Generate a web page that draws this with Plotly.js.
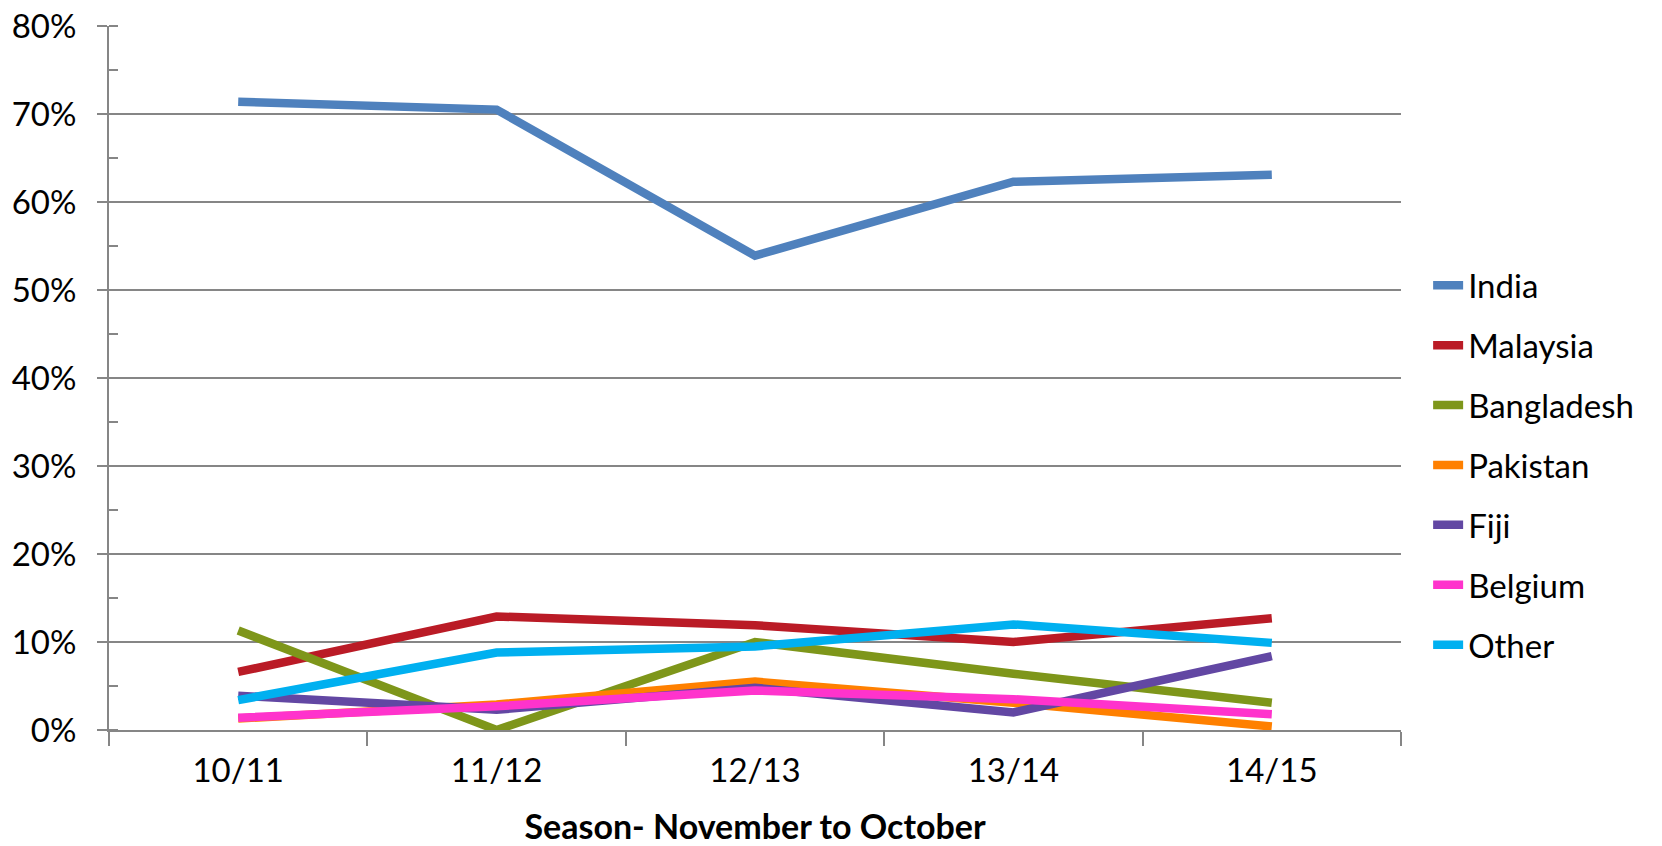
<!DOCTYPE html>
<html>
<head>
<meta charset="utf-8">
<script src="https://cdn.plot.ly/plotly-3.0.1.min.js"></script>
<style>
  html, body { margin: 0; padding: 0; background: #fff; }
  #chart { width: 1662px; height: 846px; }
</style>
</head>
<body>
<div id="chart"></div>
<script>
'use strict'

let seasons = ['10/11', '11/12', '12/13', '13/14', '14/15']

let india      = [0.714, 0.705, 0.539, 0.623, 0.631]
let malaysia   = [0.066, 0.129, 0.119, 0.100, 0.127]
let bangladesh = [0.113, 0.000, 0.100, 0.064, 0.031]
let pakistan   = [0.013, 0.029, 0.055, 0.031, 0.004]
let fiji       = [0.039, 0.023, 0.048, 0.020, 0.084]
let belgium    = [0.014, 0.027, 0.045, 0.035, 0.018]
let other      = [0.034, 0.088, 0.095, 0.120, 0.099]

let names = ['India', 'Malaysia', 'Bangladesh', 'Pakistan', 'Fiji', 'Belgium', 'Other']
let values = [india, malaysia, bangladesh, pakistan, fiji, belgium, other]
let colors = ['#4F81BD', '#BA1B26', '#7E961A', '#FF8000', '#6247A3', '#FF33CC', '#00B0F0']

let traces = []
for (let i = 0; i < names.length; i++) {
  traces.push({
    x: seasons,
    y: values[i],
    name: names[i],
    legendgroup: names[i],
    type: 'scatter',
    mode: 'lines',
    line: {color: colors[i], width: 8.5}
  })
}

let fam = 'Lato, "Open Sans", sans-serif'
let font = {family: fam, size: 33, color: '#000'}

let layout = {
  width: 1662,
  height: 846,
  margin: {l: 109, r: 261, t: 26, b: 116},
  paper_bgcolor: '#fff',
  plot_bgcolor: '#fff',
  font: font,
  showlegend: true,
  legend: {
    x: 1.021, y: 0.376, xanchor: 'left', yanchor: 'middle',
    font: {family: fam, size: 33, color: '#000'},
    tracegroupgap: 14,
    bgcolor: 'rgba(0,0,0,0)'
  },
  xaxis: {
    type: 'category',
    range: [-0.5, 4.5],
    tickson: 'boundaries',
    ticks: 'outside',
    ticklen: 14,
    tickcolor: '#868686',
    tickwidth: 2,
    ticklabelstandoff: 10,
    showline: true,
    linecolor: '#868686',
    linewidth: 2,
    showgrid: false,
    zeroline: false,
    tickfont: {family: fam, size: 33, color: '#000'},
    title: {
      text: '<b>Season- November to October</b>',
      font: {family: fam, size: 34, color: '#000'},
      standoff: 30
    }
  },
  yaxis: {
    range: [0, 0.8],
    dtick: 0.1,
    tickformat: '.0%',
    ticks: 'outside',
    ticklen: 10,
    tickcolor: '#868686',
    tickwidth: 2,
    ticklabelstandoff: 14,
    showline: true,
    linecolor: '#868686',
    linewidth: 2,
    showgrid: true,
    gridcolor: '#868686',
    gridwidth: 2,
    zeroline: false,
    tickfont: {family: fam, size: 33, color: '#000'},
    minor: {dtick: 0.05, ticks: 'inside', ticklen: 9, tickcolor: '#868686', tickwidth: 2, showgrid: false}
  }
}

Plotly.newPlot(document.getElementById('chart'), traces, layout, {displayModeBar: false})
</script>
</body>
</html>
